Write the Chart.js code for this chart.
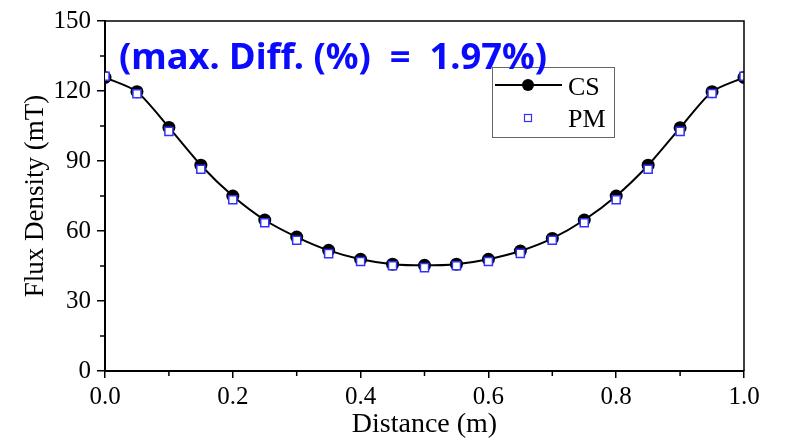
<!DOCTYPE html>
<html>
<head>
<meta charset="utf-8">
<script src="https://cdn.jsdelivr.net/npm/chart.js@4.4.1/dist/chart.umd.min.js"></script>
<style>
  html, body { margin: 0; padding: 0; background: #fff; }
  #wrap { width: 787px; height: 441px; }
</style>
</head>
<body>
<div id="wrap"><canvas id="fluxChart" width="787" height="441"></canvas></div>
<script>
// distance along the path (m)
var distance = [0.0, 0.05, 0.1, 0.15, 0.2, 0.25, 0.3, 0.35, 0.4, 0.45, 0.5,
                0.55, 0.6, 0.65, 0.7, 0.75, 0.8, 0.85, 0.9, 0.95, 1.0];
// flux density (mT)
var csValues = [125.8, 119.7, 104.4, 88.2, 75.0, 64.7, 57.4, 51.7, 47.9, 45.8, 45.3,
                45.8, 47.9, 51.4, 56.8, 64.7, 75.0, 88.2, 104.2, 119.7, 125.8];
var pmValues = [126.3, 118.8, 102.7, 86.5, 73.4, 63.5, 56.0, 50.3, 46.9, 45.1, 44.3,
                45.1, 46.9, 50.4, 56.0, 63.5, 73.4, 86.5, 102.7, 118.9, 126.3];
var yTicks = [0, 30, 60, 90, 120, 150];
var xTicks = [0, 0.2, 0.4, 0.6, 0.8, 1.0];
var noteText = "(max. Diff. (%)  =  1.97%)";

var serif = "'Liberation Serif', 'Times New Roman', serif";
var blue = "rgb(50, 50, 255)";

function pairs(xs, ys) {
  return xs.map(function (x, i) { return { x: x, y: ys[i] }; });
}

// frame, minor ticks, legend and note
var decorations = {
  id: "decorations",
  afterDraw: function (chart) {
    var ctx = chart.ctx;
    var area = chart.chartArea;
    var xs = chart.scales.x;
    var ys = chart.scales.y;
    ctx.save();

    // top and right frame
    ctx.strokeStyle = "#000";
    ctx.lineWidth = 1.5;
    ctx.beginPath();
    ctx.moveTo(area.left, area.top);
    ctx.lineTo(area.right, area.top);
    ctx.lineTo(area.right, area.bottom);
    ctx.stroke();

    // minor ticks
    ctx.beginPath();
    for (var i = 0; i < yTicks.length - 1; i++) {
      var py = ys.getPixelForValue((yTicks[i] + yTicks[i + 1]) / 2);
      ctx.moveTo(area.left, py);
      ctx.lineTo(area.left - 5, py);
    }
    for (var j = 0; j < xTicks.length - 1; j++) {
      var px = xs.getPixelForValue((xTicks[j] + xTicks[j + 1]) / 2);
      ctx.moveTo(px, area.bottom);
      ctx.lineTo(px, area.bottom + 5);
    }
    ctx.stroke();

    // legend
    var lx = 492, ly = 67, lw = 122, lh = 70;
    ctx.fillStyle = "#fff";
    ctx.fillRect(lx, ly, lw, lh);
    ctx.strokeStyle = "#666";
    ctx.lineWidth = 1;
    ctx.strokeRect(lx + 0.5, ly + 0.5, lw, lh);

    ctx.strokeStyle = "#000";
    ctx.lineWidth = 2;
    ctx.beginPath();
    ctx.moveTo(lx + 3, ly + 18);
    ctx.lineTo(lx + 70, ly + 18);
    ctx.stroke();
    ctx.fillStyle = "#000";
    ctx.beginPath();
    ctx.arc(lx + 36, ly + 18, 6, 0, Math.PI * 2);
    ctx.fill();

    ctx.fillStyle = "#fff";
    ctx.strokeStyle = blue;
    ctx.lineWidth = 1.2;
    ctx.fillRect(lx + 33, ly + 48, 7, 7);
    ctx.strokeRect(lx + 32.5, ly + 47.5, 7, 7);

    ctx.fillStyle = "#000";
    ctx.font = "26px " + serif;
    ctx.textBaseline = "alphabetic";
    ctx.textAlign = "left";
    ctx.fillText("CS", lx + 76, ly + 28);
    ctx.fillText("PM", lx + 76, ly + 60);

    // note, drawn over the legend and fitted to the reference width
    ctx.fillStyle = "#0a0aff";
    ctx.font = "bold 36px 'Noto Sans', 'Open Sans', sans-serif";
    var w = ctx.measureText(noteText).width;
    ctx.save();
    ctx.translate(119, 69);
    ctx.scale(428 / w, 1);
    ctx.fillText(noteText, 0, 0);
    ctx.restore();
    ctx.restore();
  }
};

var ctx = document.getElementById("fluxChart").getContext("2d");
var fluxChart = new Chart(ctx, {
  type: "line",
  data: {
    datasets: [
      {
        label: "CS",
        data: pairs(distance, csValues),
        borderColor: "#000",
        backgroundColor: "#000",
        borderWidth: 2,
        pointRadius: 6.5,
        pointStyle: "circle",
        pointBorderWidth: 0,
        tension: 0.25,
        order: 1,
      },
      {
        label: "PM",
        data: pairs(distance, pmValues),
        showLine: false,
        borderColor: blue,
        backgroundColor: "#fff",
        pointRadius: 5.7,
        pointStyle: "rect",
        pointBorderWidth: 1.5,
        order: 0,
      },
    ],
  },
  options: {
    responsive: false,
    animation: false,
    layout: { padding: { top: 18, right: 43, left: 0, bottom: 0 } },
    plugins: {
      legend: { display: false },
      tooltip: { enabled: false },
    },
    scales: {
      x: {
        type: "linear",
        min: 0,
        max: 1,
        afterBuildTicks: function (scale) {
          scale.ticks = xTicks.map(function (v) { return { value: v }; });
        },
        afterFit: function (scale) { scale.height = 70; },
        ticks: {
          color: "#000",
          font: { family: serif, size: 25 },
          padding: 4,
          maxRotation: 0,
          callback: function (v) { return Number(v).toFixed(1); },
        },
        grid: { drawOnChartArea: false, tickLength: 7, color: "#000", lineWidth: 1.5 },
        border: { color: "#000", width: 2 },
        title: {
          display: true,
          text: "Distance (m)",
          color: "#000",
          font: { family: serif, size: 28 },
          padding: { top: 4, bottom: 0 },
        },
      },
      y: {
        min: 0,
        max: 150,
        afterBuildTicks: function (scale) {
          scale.ticks = yTicks.map(function (v) { return { value: v }; });
        },
        afterFit: function (scale) { scale.width = 105; },
        ticks: {
          color: "#000",
          font: { family: serif, size: 25 },
          padding: 6,
        },
        grid: { drawOnChartArea: false, tickLength: 8, color: "#000", lineWidth: 1.5 },
        border: { color: "#000", width: 2 },
        title: {
          display: true,
          text: "Flux Density (mT)",
          color: "#000",
          font: { family: serif, size: 27 },
          padding: { top: 20, bottom: 0 },
        },
      },
    },
  },
  plugins: [decorations],
});
</script>
</body>
</html>
